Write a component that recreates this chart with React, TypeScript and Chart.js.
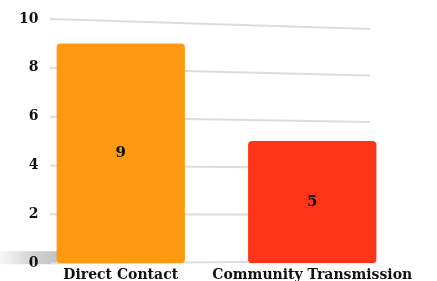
import { useEffect, useRef } from 'react';
import Chart from 'chart.js/auto';

const categories = ['Direct Contact', 'Community Transmission'];
const values = [9, 5];
const barColors = ['#FF9A10', '#FF3419'];
const yTickValues = [0, 2, 4, 6, 8, 10];

export default function App() {
  const ref = useRef<HTMLCanvasElement>(null);
  useEffect(() => {
    document.body.style.margin = '0';
    document.body.style.overflow = 'hidden';
    const font = { family: '"DejaVu Serif", serif', weight: 'bold' as const, size: 14 };

    const gridPlugin = {
      id: 'slantGrid',
      beforeDraw(chart: any) {
        const y = chart.scales.y;
        const ctx = chart.ctx;
        const x0 = chart.chartArea.left + 25;
        const x1 = chart.chartArea.right - 38;
        ctx.save();
        // floor shadow on the left
        const base = y.getPixelForValue(0);
        const g = ctx.createLinearGradient(0, 0, x0 + 5, 0);
        g.addColorStop(0, 'rgba(200,200,200,0.15)');
        g.addColorStop(0.6, 'rgba(190,190,190,0.7)');
        g.addColorStop(1, 'rgba(185,185,185,0.85)');
        ctx.fillStyle = g;
        ctx.fillRect(0, base - 12, x0 + 8, 13);
        ctx.strokeStyle = '#dcdcdc';
        ctx.lineWidth = 2;
        for (const v of yTickValues) {
          const py = y.getPixelForValue(v);
          const slant = 1.2 * v - 2;
          ctx.beginPath();
          ctx.moveTo(x0, py);
          ctx.lineTo(x1, py + slant);
          ctx.stroke();
        }
        ctx.restore();
      },
    };

    const labelPlugin = {
      id: 'barLabels',
      afterDatasetsDraw(chart: any) {
        const ctx = chart.ctx;
        const meta = chart.getDatasetMeta(0);
        ctx.save();
        ctx.font = 'bold 15px "DejaVu Serif", serif';
        ctx.fillStyle = '#111';
        ctx.textAlign = 'center';
        ctx.textBaseline = 'middle';
        meta.data.forEach((bar: any, i: number) => {
          ctx.fillText(String(values[i]), bar.x, (bar.y + bar.base) / 2);
        });
        ctx.restore();
      },
    };

    const chart = new Chart(ref.current!, {
      type: 'bar',
      data: {
        labels: categories,
        datasets: [
          {
            data: values,
            backgroundColor: barColors,
            borderRadius: 4,
            borderSkipped: false,
            barPercentage: 0.67,
            categoryPercentage: 1,
          },
        ],
      },
      options: {
        animation: false,
        responsive: false,
        layout: { padding: { left: 0, right: 29, top: 19, bottom: -7 } },
        plugins: { legend: { display: false }, tooltip: { enabled: false } },
        scales: {
          x: {
            grid: { display: false, drawTicks: false },
            border: { display: false },
            ticks: { font, color: '#111', padding: 4, maxRotation: 0, minRotation: 0, autoSkip: false },
          },
          y: {
            min: 0,
            max: 10,
            ticks: { stepSize: 2, font, color: '#111', padding: -6, mirror: true, crossAlign: 'far' },
            grid: { display: false, drawTicks: false },
            border: { display: false },
            afterFit: (s: any) => {
              s.width = 25;
            },
          },
        },
      },
      plugins: [gridPlugin, labelPlugin],
    });
    return () => chart.destroy();
  }, []);
  return <canvas ref={ref} width={437} height={281} style={{ display: 'block' }} />;
}
